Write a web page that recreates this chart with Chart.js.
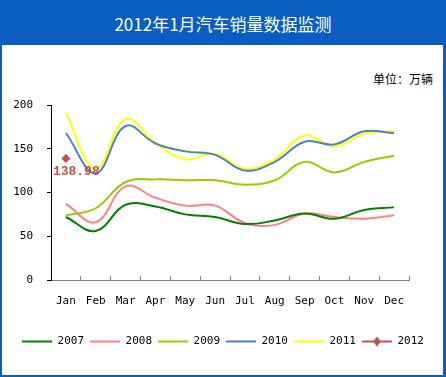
<!DOCTYPE html>
<html>
<head>
<meta charset="utf-8">
<script src="https://cdn.jsdelivr.net/npm/chart.js@4.4.0/dist/chart.umd.min.js"></script>
<style>
  html, body { margin: 0; padding: 0; background: #fff; }
  #frame { position: relative; width: 446px; height: 377px; background: #0B5EC0; overflow: hidden; }
  #title { position: absolute; left: 0; top: 0; width: 446px; height: 45px;
           text-align: center; color: #fff; font: 17px "Noto Sans CJK SC", sans-serif; line-height: 47px; }
  #panel { position: absolute; left: 2px; top: 45px; width: 441px; height: 330px; background: #fff; }
  #unit { position: absolute; right: 13px; top: 70px; color: #000; font: 12px "Noto Sans CJK SC", sans-serif; }
  #wrap { position: absolute; left: 0; top: 0; width: 446px; height: 377px; }
</style>
</head>
<body>
<div id="frame">
  <div id="title">2012年1月汽车销量数据监测</div>
  <div id="panel"></div>
  <div id="unit">单位：万辆</div>
  <div id="wrap"><canvas id="salesChart" width="446" height="377"></canvas></div>
</div>
<script>
// Monthly sales, 10k units
const months = ['Jan', 'Feb', 'Mar', 'Apr', 'May', 'Jun', 'Jul', 'Aug', 'Sep', 'Oct', 'Nov', 'Dec'];
const sales2007 = [72, 56, 86, 84, 75, 72, 64, 68, 76, 70, 80, 83];
const sales2008 = [87, 66, 107, 94, 85, 85, 65, 63, 76, 72, 70, 74];
const sales2009 = [74, 82, 112, 115, 114, 114, 109, 114, 135, 123, 135, 142];
const sales2010 = [168, 122, 176, 156, 147, 143, 125, 135, 158, 155, 170, 168];
const sales2011 = [191, 127, 184, 157, 138, 144, 127, 138, 165, 153, 167, 170];
const sales2012 = [138.98, null, null, null, null, null, null, null, null, null, null, null];
const yTicks = [0, 50, 100, 150, 200];

const monoFont = { family: '"DejaVu Sans Mono", monospace', size: 11 };

function lineSet(label, data, color) {
    return {
        label: label,
        data: data,
        borderColor: color,
        backgroundColor: color,
        borderWidth: 2,
        pointRadius: 0,
        pointHoverRadius: 0,
        tension: 0.4,
        fill: false
    };
}

// legend icon for 2012: line with a diamond in the middle
function diamondIcon() {
    const c = document.createElement('canvas');
    c.width = 30; c.height = 10;
    const g = c.getContext('2d');
    g.strokeStyle = '#C0504D';
    g.lineWidth = 2;
    g.beginPath(); g.moveTo(0, 5); g.lineTo(30, 5); g.stroke();
    g.fillStyle = '#C0504D';
    g.beginPath(); g.moveTo(15, 0); g.lineTo(19, 5); g.lineTo(15, 10); g.lineTo(11, 5); g.closePath(); g.fill();
    return c;
}
const icon2012 = diamondIcon();

const valueLabel = {
    id: 'valueLabel',
    afterDatasetsDraw(chart) {
        const meta = chart.getDatasetMeta(5);
        const pt = meta.data[0];
        if (!pt) return;
        const ctx = chart.ctx;
        ctx.save();
        ctx.font = 'bold 13px "Liberation Mono", monospace';
        ctx.fillStyle = '#C0504D';
        ctx.textAlign = 'left';
        ctx.textBaseline = 'middle';
        ctx.fillText(sales2012[0].toFixed(2), pt.x - 13, pt.y + 13);
        ctx.restore();
    }
};

const ctx = document.getElementById('salesChart');
const salesChart = new Chart(ctx, {
    type: 'line',
    data: {
        labels: months,
        datasets: [
            lineSet('2007', sales2007, '#008000'),
            lineSet('2008', sales2008, '#FF8080'),
            lineSet('2009', sales2009, '#99CC00'),
            lineSet('2010', sales2010, '#4F81BD'),
            lineSet('2011', sales2011, '#FFFF00'),
            {
                label: '2012',
                data: sales2012,
                borderColor: '#C0504D',
                backgroundColor: '#C0504D',
                borderWidth: 2,
                pointStyle: 'rectRot',
                pointRadius: 4.5,
                pointBorderWidth: 0
            }
        ]
    },
    options: {
        responsive: false,
        animation: false,
        events: [],
        layout: { padding: { left: 0, right: 0, top: 105, bottom: 20 } },
        plugins: {
            tooltip: { enabled: false },
            legend: {
                position: 'bottom',
                labels: {
                    color: '#000',
                    font: monoFont,
                    usePointStyle: true,
                    pointStyleWidth: 30,
                    padding: 6,
                    generateLabels(chart) {
                        return chart.data.datasets.map((ds, i) => ({
                            text: ds.label,
                            datasetIndex: i,
                            fontColor: '#000',
                            strokeStyle: ds.borderColor,
                            fillStyle: ds.borderColor,
                            lineWidth: 2,
                            pointStyle: i === 5 ? icon2012 : 'line',
                            hidden: false
                        }));
                    }
                }
            }
        },
        scales: {
            x: {
                offset: true,
                grid: {
                    offset: true,
                    drawOnChartArea: false,
                    drawTicks: true,
                    tickLength: -4,
                    color: '#808080'
                },
                border: { color: '#808080', width: 1 },
                ticks: { color: '#000', font: monoFont, padding: 19, maxRotation: 0, autoSkip: false },
                afterFit(scale) { scale.height = 50; }
            },
            y: {
                min: 0,
                max: 200,
                afterBuildTicks(scale) { scale.ticks = yTicks.map(v => ({ value: v })); },
                grid: { drawOnChartArea: false, tickLength: 4, color: '#000' },
                border: { color: '#000', width: 1 },
                ticks: { color: '#000', font: monoFont, padding: 14 },
                afterFit(scale) { scale.width = 51; }
            },
            // empty spacer on the right so the legend keeps the full width
            spacer: {
                type: 'linear',
                position: 'right',
                display: true,
                grid: { display: false },
                border: { display: false },
                ticks: { display: false },
                afterFit(scale) { scale.width = 37; }
            }
        }
    },
    plugins: [valueLabel]
});
</script>
</body>
</html>
